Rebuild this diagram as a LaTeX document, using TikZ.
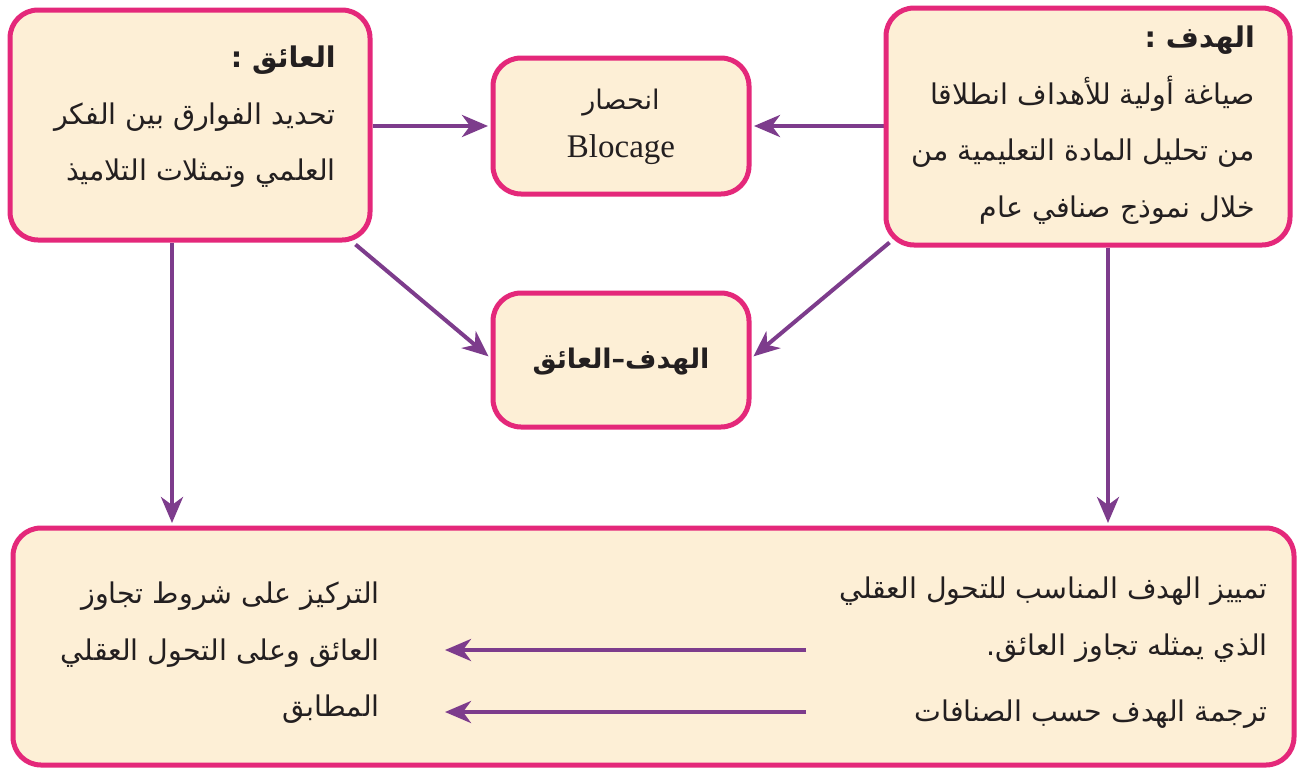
\documentclass[tikz,border=0pt]{standalone}
\usepackage{fontspec}
\usetikzlibrary{arrows.meta,calc,backgrounds}
\TeXXeTstate=1
\newfontfamily\arabicfont[Script=Arabic]{DejaVu Sans}
\newfontfamily\blocfont{Liberation Serif}
\definecolor{boxpink}{RGB}{228,40,122}
\definecolor{boxfill}{RGB}{253,239,214}
\definecolor{arrowpurple}{RGB}{125,60,140}
\definecolor{txt}{RGB}{35,31,32}
\newcommand\arline[1]{\beginR #1\endR}
\tikzset{
  box/.style={draw=boxpink, line width=5pt, fill=boxfill, rounded corners=28pt, inner sep=0pt},
  link/.style={draw=arrowpurple, line width=4pt, -{Stealth[length=26pt,width=22pt,inset=8pt]}, shorten >=2.5pt},
  artext/.style={font=\arabicfont\fontsize{28.5}{56.5}\selectfont, text=txt, align=right, inner sep=0pt},
}
\begin{document}
\begin{tikzpicture}[x=1pt,y=-1pt]
\useasboundingbox (0,0) rectangle (1303,771);
\node[box, minimum width=360, minimum height=230] (lbox) at (190,125) {};
\node[box, minimum width=404, minimum height=237] (rbox) at (1088,126.5) {};
\node[box, minimum width=256, minimum height=136] (blk) at (621,126) {};
\node[box, minimum width=256, minimum height=134] (mid) at (621,360) {};
\node[box, minimum width=1281, minimum height=237] (bot) at (653.5,646.5) {};

\node[artext, anchor=north east] (ltxt) at (336,46)
  {\arline{{\bfseries العائق :}}\\ \arline{تحديد الفوارق بين الفكر}\\ \arline{العلمي وتمثلات التلاميذ}};
\node[artext, anchor=north east] (rtxt) at (1255,26)
  {\arline{{\bfseries الهدف :}}\\ \arline{صياغة أولية للأهداف انطلاقا}\\ \arline{من تحليل المادة التعليمية من}\\ \arline{خلال نموذج صنافي عام}};
\node[text=txt, align=center, inner sep=0pt] (blktxt) at (621,127)
  {{\arabicfont\fontsize{27}{30}\selectfont\arline{انحصار}}\\[17pt] {\blocfont\fontsize{33}{34}\selectfont Blocage}};
\node[text=txt, inner sep=0pt, font=\arabicfont\bfseries\fontsize{27}{32}\selectfont] (midtxt) at (621,362)
  {\arline{الهدف–العائق}};
\node[artext, anchor=north east] (brtxt) at (1268,577)
  {\arline{تمييز الهدف المناسب للتحول العقلي}\\ \arline{الذي يمثله تجاوز العائق.}\\[10pt] \arline{ترجمة الهدف حسب الصنافات}};
\node[artext, anchor=north east] (bltxt) at (380,582)
  {\arline{التركيز على شروط تجاوز}\\ \arline{العائق وعلى التحول العقلي}\\ \arline{المطابق}};

\begin{scope}[on background layer]
\draw[link] (blk.west -| lbox.east) -- (blk.west);
\draw[link] (blk.east -| rbox.west) -- (blk.east);
\draw[link] ([xshift=-17pt,yshift=-2pt]lbox.south east) -- ([yshift=2pt]mid.west);
\draw[link] ([xshift=6pt,yshift=5pt]rbox.south west) -- ([yshift=2pt]mid.east);
\draw[link] ([xshift=-18pt]lbox.south) -- ([xshift=-18pt]lbox.south |- bot.north);
\draw[link] ([xshift=20pt]rbox.south) -- ([xshift=20pt]rbox.south |- bot.north);
\end{scope}
\coordinate (s1) at (806,650);
\coordinate (e1) at (445,650);
\coordinate (s2) at (806,712);
\coordinate (e2) at (445,712);
\draw[link, shorten >=0pt] (s1) -- (e1);
\draw[link, shorten >=0pt] (s2) -- (e2);
\end{tikzpicture}
\end{document}
